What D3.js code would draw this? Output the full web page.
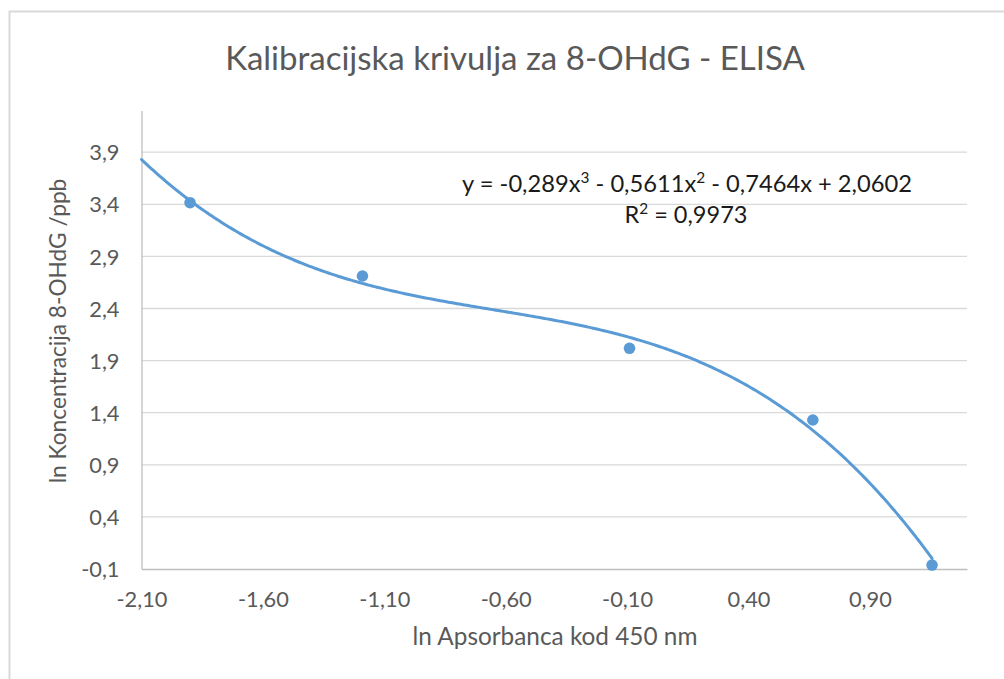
<!DOCTYPE html>
<html>
<head>
<meta charset="utf-8">
<script src="https://cdn.jsdelivr.net/npm/d3@7"></script>
<style>
  body { margin: 0; background: #fff; }
  svg text { font-family: Lato, "Open Sans", sans-serif; }
</style>
</head>
<body>
<svg id="canvas" width="1004" height="679"></svg>
<script>
// Measured points (ln absorbance vs ln concentration)
const lnAbsorbance = [-1.9, -1.19, -0.09, 0.665, 1.156];
const lnConcentration = [3.415, 2.712, 2.018, 1.33, -0.062];

// Polynomial trendline coefficients, highest power first
const trendCoef = [-0.289, -0.5611, -0.7464, 2.0602];
const trendFrom = -2.1;

const xTicks = [-2.1, -1.6, -1.1, -0.6, -0.1, 0.4, 0.9];
const yTicks = [-0.1, 0.4, 0.9, 1.4, 1.9, 2.4, 2.9, 3.4, 3.9];

const titleText = "Kalibracijska krivulja za 8-OHdG - ELISA";
const xTitle = "ln Apsorbanca kod 450 nm";
const yTitle = "ln Koncentracija 8-OHdG /ppb";

const svg = d3.select("#canvas");
const [pl, pr, pt, pb] = [141.5, 967, 110.5, 569];
const blue = "#5b9bd5";

const x = d3.scaleLinear().domain([-2.1, 1.3]).range([pl, pr]);
const y = d3.scaleLinear().domain([-0.1, 4.3]).range([pb, pt]);

const comma = (f) => (d) => d3.format(f)(d).replace(".", ",").replace("−", "-");

// scale text so it spans a given width
const fit = (sel, width) => {
  const w = sel.node().getComputedTextLength();
  const fs = parseFloat(sel.attr("font-size"));
  sel.attr("font-size", (fs * width) / w);
  return sel;
};

// chart frame
svg.append("path")
  .attr("d", "M9.5,679 V11.5 H1004")
  .attr("fill", "none")
  .attr("stroke", "#d9d9d9")
  .attr("stroke-width", 2);

// gridlines
svg.append("g")
  .selectAll("line")
  .data(yTicks.slice(1))
  .join("line")
  .attr("x1", pl).attr("x2", pr)
  .attr("y1", (d) => y(d)).attr("y2", (d) => y(d))
  .attr("stroke", "#d9d9d9")
  .attr("stroke-width", 1.3);

// axes
const xAxis = svg.append("g")
  .attr("transform", `translate(0,${pb})`)
  .call(d3.axisBottom(x).tickValues(xTicks).tickSize(0).tickFormat(comma(".2f")));
xAxis.select(".domain").attr("stroke", "#bfbfbf").attr("stroke-width", 1.3);
xAxis.selectAll("text")
  .attr("font-size", 17).attr("fill", "#595959")
  .attr("dy", 0).attr("y", 38);

const yAxis = svg.append("g")
  .attr("transform", `translate(${pl},0)`)
  .call(d3.axisLeft(y).tickValues(yTicks).tickSize(0).tickFormat(comma(".1f")));
yAxis.select(".domain").attr("stroke", "#bfbfbf").attr("stroke-width", 1.3);
yAxis.selectAll("text")
  .attr("font-size", 17).attr("fill", "#595959")
  .attr("x", -22).attr("dy", "0.35em");
svg.selectAll(".tick text").attr("font-family", "Lato, 'Open Sans', sans-serif");

// size tick labels so "-2,10" spans about 51px
const firstTick = xAxis.select(".tick text");
fit(firstTick, 51);
svg.selectAll(".tick text").attr("font-size", firstTick.attr("font-size"));

// trendline
const poly = (v) => trendCoef.reduce((acc, c) => acc * v + c, 0);
const trendX = d3.range(trendFrom, d3.max(lnAbsorbance), 0.01).concat([d3.max(lnAbsorbance)]);
svg.append("path")
  .datum(trendX)
  .attr("fill", "none")
  .attr("stroke", blue)
  .attr("stroke-width", 3)
  .attr("stroke-linecap", "round")
  .attr("d", d3.line().x((d) => x(d)).y((d) => y(poly(d))));

// points
svg.append("g")
  .selectAll("circle")
  .data(lnAbsorbance.map((d, i) => [d, lnConcentration[i]]))
  .join("circle")
  .attr("cx", (d) => x(d[0]))
  .attr("cy", (d) => y(d[1]))
  .attr("r", 5.8)
  .attr("fill", blue);

// equation label
const eq = svg.append("text")
  .attr("x", 687).attr("y", 192)
  .attr("text-anchor", "middle")
  .attr("font-size", 19)
  .attr("fill", "#1a1a1a");
eq.append("tspan").text("y = -0,289x");
eq.append("tspan").attr("baseline-shift", "super").attr("font-size", "65%").text("3");
eq.append("tspan").text(" - 0,5611x");
eq.append("tspan").attr("baseline-shift", "super").attr("font-size", "65%").text("2");
eq.append("tspan").text(" - 0,7464x + 2,0602");
fit(eq, 450);

const r2 = svg.append("text")
  .attr("x", 686).attr("y", 223)
  .attr("text-anchor", "middle")
  .attr("font-size", 19)
  .attr("fill", "#1a1a1a");
r2.append("tspan").text("R");
r2.append("tspan").attr("baseline-shift", "super").attr("font-size", "65%").text("2");
r2.append("tspan").text(" = 0,9973");
fit(r2, 123);

// titles
fit(svg.append("text")
  .attr("x", 515).attr("y", 70)
  .attr("text-anchor", "middle")
  .attr("font-size", 28)
  .attr("fill", "#595959")
  .text(titleText), 580);

fit(svg.append("text")
  .attr("x", 555).attr("y", 645)
  .attr("text-anchor", "middle")
  .attr("font-size", 20)
  .attr("fill", "#595959")
  .text(xTitle), 285);

fit(svg.append("text")
  .attr("transform", "translate(66,331) rotate(-90)")
  .attr("text-anchor", "middle")
  .attr("font-size", 20)
  .attr("fill", "#595959")
  .text(yTitle), 305);
</script>
</body>
</html>
